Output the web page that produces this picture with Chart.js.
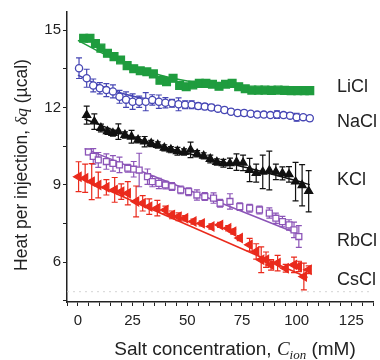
<!DOCTYPE html>
<html><head><meta charset="utf-8">
<script src="https://cdn.jsdelivr.net/npm/chart.js@4.4.1/dist/chart.umd.min.js"></script>
<style>html,body{margin:0;padding:0;background:#fff}canvas{display:block}</style>
</head><body>
<canvas id="c" width="380" height="360"></canvas>
<script>
// ---- data ----
const seriesNames = ["LiCl","NaCl","KCl","RbCl","CsCl"];

const liX = [2.6,5.5,8,10.5,13.5,16.5,19.5,22.5,25.5,28.5,31.5,34.5,37.5,40.5,43.5,46.5,49.5,52.5,55.5,58.5,61.5,64.5,67.5,70.5,73.5,76.5,79.5,82.5,85.5,88.5,91.5,94.5,97.5,100.5,103.5,106];
const liY = [14.68,14.68,14.48,14.3,14.1,13.97,13.84,13.62,13.5,13.42,13.38,13.3,13.05,13.0,13.13,12.85,12.8,12.87,12.93,12.93,12.9,12.82,12.9,12.93,12.8,12.72,12.67,12.67,12.67,12.66,12.67,12.66,12.65,12.65,12.65,12.65];
const liErr = [0.12,0.12,0.1,0.1,0.1,0.1,0.1,0.1,0.1,0.1,0.1,0.1,0.1,0.1,0.1,0.1,0.1,0.1,0.1,0.1,0.1,0.1,0.1,0.1,0.1,0.1,0.1,0.1,0.1,0.1,0.1,0.1,0.1,0.1,0.1,0.1];
const liFitX = [0,10,20,30,40,50,60,70,80,90,100,106];
const liFitY = [14.6,14.15,13.75,13.45,13.2,13.02,12.9,12.82,12.76,12.72,12.69,12.68];

const naX = [0.5,4,7,10,13,16,19,22,25,28,31,34,37,40,43,46,49,52,55,58,61,64,67,70,73,76,79,82,85,88,91,94,97,100,103,106];
const naY = [13.52,13.13,12.85,12.74,12.67,12.62,12.41,12.3,12.22,12.22,12.22,12.29,12.22,12.18,12.16,12.12,12.1,12.1,12.05,12.03,12.0,11.95,11.9,11.83,11.78,11.78,11.75,11.72,11.72,11.7,11.72,11.7,11.68,11.62,11.62,11.58];
const naErr = [0.4,0.35,0.25,0.22,0.25,0.25,0.25,0.3,0.3,0.22,0.35,0.2,0.26,0.2,0.15,0.25,0.15,0.15,0.12,0.12,0.12,0.1,0.1,0.1,0.1,0.1,0.08,0.08,0.08,0.08,0.15,0.1,0.1,0.15,0.1,0.1];
const naFitX = [0,5,10,20,30,40,50,60,70,80,90,100,106];
const naFitY = [13.25,13.05,12.85,12.55,12.35,12.22,12.1,12.0,11.88,11.78,11.7,11.63,11.6];

const kX = [4,7.5,10.5,13.5,16,18.5,21.5,24.5,27.5,30.5,33.5,36.5,39.5,42.5,45.5,48.5,51.5,54.5,57.5,60.5,63.5,66.5,69.5,72.5,75.5,78.5,81.5,84.5,87.5,90.5,93.5,96.5,99.5,102.5,105.5];
const kY = [11.7,11.45,11.2,11.07,11.0,11.06,10.93,10.86,10.74,10.67,10.6,10.54,10.43,10.36,10.3,10.27,10.35,10.2,10.12,10.0,9.88,9.83,9.83,9.88,9.85,9.57,9.45,9.5,9.55,9.5,9.44,9.4,9.12,8.98,8.75];
const kErr = [0.35,0.3,0.15,0.12,0.12,0.3,0.12,0.25,0.12,0.2,0.12,0.12,0.12,0.12,0.15,0.12,0.3,0.12,0.12,0.15,0.12,0.15,0.2,0.32,0.3,0.45,0.35,0.65,0.75,0.3,0.25,0.3,0.75,0.8,0.8];
const kFitX = [3,20,40,60,80,100,106];
const kFitY = [11.55,11.0,10.45,10.0,9.6,9.15,9.0];

const rbX = [4.8,7,9.3,13,16,19,22.8,25.5,28,31.8,34,37,40,43,47,50.6,54.4,58,62,65,69.5,74,78.5,83,87.5,90.5,93.5,96.5,98.8,101];
const rbY = [10.27,10.1,9.96,9.9,9.83,9.77,9.64,9.6,9.57,9.31,9.12,9.05,8.99,8.93,8.8,8.73,8.6,8.54,8.48,8.28,8.35,8.15,8.09,8.02,7.9,7.7,7.57,7.44,7.25,6.99];
const rbErr = [0.1,0.3,0.29,0.3,0.3,0.3,0.15,0.3,0.65,0.3,0.2,0.2,0.15,0.15,0.15,0.15,0.2,0.15,0.2,0.15,0.3,0.15,0.15,0.15,0.2,0.2,0.2,0.2,0.3,0.42];
const rbFitX = [3,102];
const rbFitY = [10.4,7.05];

const csX = [0.3,3.3,6.3,9.3,13,16.8,19.8,22.8,26.6,29.6,32.6,36.3,40,43,46,49,52.8,56.6,61,65,68.7,71,74,78.5,81.5,83.8,86,88.3,91.3,95,98.8,101,103.3,105.5];
const csY = [9.31,9.25,9.12,8.99,8.9,8.8,8.73,8.67,8.35,8.28,8.15,8.09,8.02,7.83,7.76,7.7,7.57,7.5,7.38,7.44,7.31,7.18,6.93,6.67,6.41,6.09,6.09,5.89,5.96,5.76,5.89,5.83,5.44,5.7];
const csErr = [0.58,0.55,0.7,0.5,0.3,0.48,0.3,0.45,0.6,0.3,0.3,0.3,0.15,0.15,0.15,0.1,0.1,0.1,0.1,0.1,0.1,0.1,0.1,0.25,0.3,0.5,0.3,0.2,0.3,0.15,0.3,0.2,0.52,0.15];
const csFitX = [0,105];
const csFitY = [9.3,5.4];

const baseX = [-5,135];
const baseY = [4.85,4.85];

const yMajorTicks = [6,9,12,15];
const xMajorTicks = [0,25,50,75,100,125];
// label anchor values (data units) for series names
const labelY = [12.79,11.43,9.19,6.82,5.31];

// ---- build ----
const pts = (xs, ys) => xs.map((x, i) => ({x, y: ys[i]}));
const colors = ['#1f9c3e', '#4646b4', '#111111', '#8c55b8', '#ea2a1c'];

function markerDs(xs, ys, errs, color, style, fill, radius, rot) {
  return {type:'scatter', data: pts(xs, ys), errors: errs, borderColor: color,
    backgroundColor: fill ? color : '#ffffff', pointStyle: style, pointRadius: radius,
    pointRotation: rot || 0, pointBorderWidth: 1.3, showLine: false, order: 1};
}
function fitDs(xs, ys, color) {
  return {type:'line', data: pts(xs, ys), borderColor: color, borderWidth: 1.5,
    pointRadius: 0, fill: false, tension: 0.35, order: 2};
}

const errorBars = {
  id: 'errorBars',
  beforeDatasetsDraw(chart) {
    const {ctx} = chart; const xs = chart.scales.x, ys = chart.scales.y;
    chart.data.datasets.forEach(ds => {
      if (!ds.errors) return;
      ctx.save(); ctx.strokeStyle = ds.borderColor; ctx.lineWidth = 1.2;
      ds.data.forEach((p, i) => {
        const e = ds.errors[i]; if (!e) return;
        const px = xs.getPixelForValue(p.x);
        const y1 = ys.getPixelForValue(p.y - e), y2 = ys.getPixelForValue(p.y + e);
        ctx.beginPath();
        ctx.moveTo(px, y1); ctx.lineTo(px, y2);
        ctx.moveTo(px - 3, y1); ctx.lineTo(px + 3, y1);
        ctx.moveTo(px - 3, y2); ctx.lineTo(px + 3, y2);
        ctx.stroke();
      });
      ctx.restore();
    });
  }
};

const textPlugin = {
  id: 'texts',
  afterDraw(chart) {
    const {ctx} = chart; const xs = chart.scales.x, ys = chart.scales.y;
    ctx.save();
    ctx.fillStyle = '#222';
    ctx.font = '18px "Liberation Sans", Arial, sans-serif';
    ctx.textAlign = 'left'; ctx.textBaseline = 'middle';
    seriesNames.forEach((n, i) => {
      ctx.fillText(n, 337, ys.getPixelForValue(labelY[i]));
    });
    // x title with italic C_ion
    const f = '19px "Liberation Sans", Arial, sans-serif';
    const fi = 'italic 19px "Liberation Serif", "Times New Roman", serif';
    const fs = 'italic 13px "Liberation Serif", "Times New Roman", serif';
    const parts = [[ 'Salt concentration, ', f, 0 ], ['C', fi, 0], ['ion', fs, 4], [' (mM)', f, 0]];
    let w = 0; parts.forEach(p => { ctx.font = p[1]; w += ctx.measureText(p[0]).width; });
    let x0 = 235 - w / 2; const yb = 355;
    ctx.textBaseline = 'alphabetic';
    parts.forEach(p => { ctx.font = p[1]; ctx.fillText(p[0], x0, yb + p[2]); x0 += ctx.measureText(p[0]).width; });
    // y title rotated
    const f2 = '17.5px "Liberation Sans", Arial, sans-serif';
    const fi2 = 'italic 17.5px "Liberation Serif", "Times New Roman", serif';
    ctx.translate(22, 165); ctx.rotate(-Math.PI / 2);
    const yparts = [['Heat per injection, ', f2], ['\u03B4q', fi2], [' (\u00B5cal)', f2]];
    w = 0; yparts.forEach(p => { ctx.font = p[1]; w += ctx.measureText(p[0]).width; });
    x0 = -w / 2; ctx.textBaseline = 'middle';
    yparts.forEach(p => { ctx.font = p[1]; ctx.fillText(p[0], x0, 0); x0 += ctx.measureText(p[0]).width; });
    ctx.restore();
  }
};

const tickFont = {family: '"Liberation Sans", Arial, sans-serif', size: 15};

new Chart(document.getElementById('c'), {
  data: {
    datasets: [
      {type:'line', data: pts(baseX, baseY), borderColor: '#d4d4d4', borderWidth: 1, borderDash: [2, 4], pointRadius: 0, order: 3},
      fitDs(liFitX, liFitY, colors[0]),
      fitDs(naFitX, naFitY, colors[1]),
      fitDs(kFitX, kFitY, colors[2]),
      fitDs(rbFitX, rbFitY, colors[3]),
      fitDs(csFitX, csFitY, colors[4]),
      markerDs(liX, liY, liErr, colors[0], 'rect', true, 5.5),
      markerDs(naX, naY, naErr, colors[1], 'circle', false, 3.6),
      markerDs(kX, kY, kErr, colors[2], 'triangle', true, 4.6),
      markerDs(rbX, rbY, rbErr, colors[3], 'rect', false, 4.2),
      markerDs(csX, csY, csErr, colors[4], 'triangle', true, 5, -90)
    ]
  },
  options: {
    responsive: false, animation: false, devicePixelRatio: 1,
    layout: {padding: {top: 12, left: 0, right: 0, bottom: 0}},
    plugins: {legend: {display: false}, tooltip: {enabled: false}},
    scales: {
      x: {type: 'linear', min: -5, max: 135,
        afterFit: s => { s.height = 58; },
        border: {color: '#222', width: 1.5},
        grid: {drawOnChartArea: false, tickLength: 4, color: '#222', lineWidth: 1},
        ticks: {stepSize: 5, includeBounds: false, autoSkip: false, maxRotation: 0, padding: 6,
          color: '#222', font: tickFont,
          callback: v => xMajorTicks.includes(v) ? String(v) : ''}
      },
      y: {type: 'linear', min: 4.45, max: 15.7,
        afterFit: s => { s.width = 67; },
        border: {color: '#222', width: 1.5},
        grid: {drawOnChartArea: false, tickLength: 4, color: '#222', lineWidth: 1},
        ticks: {stepSize: 1.5, includeBounds: false, autoSkip: false, padding: 2,
          color: '#222', font: tickFont,
          callback: v => yMajorTicks.includes(v) ? String(v) : ''}
      }
    }
  },
  plugins: [errorBars, textPlugin]
});
</script>
</body></html>
